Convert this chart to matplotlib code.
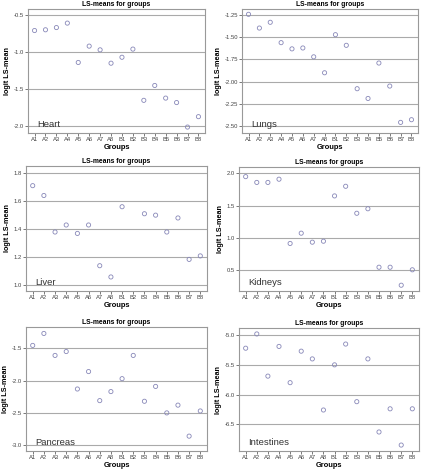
import matplotlib
matplotlib.use("Agg")
import matplotlib.pyplot as plt
import numpy as np

plt.rcParams['font.family'] = ['Liberation Sans', 'DejaVu Sans']

groups = ['A1', 'A2', 'A3', 'A4', 'A5', 'A6', 'A7', 'A8',
          'B1', 'B2', 'B3', 'B4', 'B5', 'B6', 'B7', 'B8']

heart = [-0.71, -0.70, -0.67, -0.61, -1.14, -0.92, -0.97, -1.15,
         -1.07, -0.96, -1.65, -1.45, -1.62, -1.68, -2.01, -1.87]
lungs = [-1.24, -1.395, -1.33, -1.56, -1.63, -1.62, -1.72, -1.90,
         -1.47, -1.59, -2.08, -2.19, -1.79, -2.05, -2.46, -2.43]
liver = [1.71, 1.64, 1.38, 1.43, 1.37, 1.43, 1.14, 1.06,
         1.56, np.nan, 1.51, 1.50, 1.38, 1.48, 1.185, 1.21]
kidneys = [1.95, 1.86, 1.86, 1.91, 0.91, 1.07, 0.93, 0.945,
           1.65, 1.80, 1.38, 1.45, 0.54, 0.54, 0.26, 0.50]
pancreas = [-1.455, -1.27, -1.61, -1.55, -2.13, -1.86, -2.31, -2.17,
            -1.97, -1.61, -2.32, -2.09, -2.50, -2.38, -2.86, -2.47]
intestines = [-5.22, -4.98, -5.69, -5.19, -5.80, -5.27, -5.40, -6.26,
              -5.50, -5.15, -6.12, -5.40, -6.63, -6.24, -6.85, -6.24]

organs = ['Heart', 'Lungs', 'Liver', 'Kidneys', 'Pancreas', 'Intestines']
series = [heart, lungs, liver, kidneys, pancreas, intestines]
yticks = [[-2.0, -1.5, -1.0, -0.5],
          [-2.50, -2.25, -2.00, -1.75, -1.50, -1.25],
          [1.0, 1.2, 1.4, 1.6, 1.8],
          [0.5, 1.0, 1.5, 2.0],
          [-3.0, -2.5, -2.0, -1.5],
          [-6.5, -6.0, -5.5, -5.0]]
ylims = [(-2.09, -0.42), (-2.58, -1.18), (0.96, 1.85),
         (0.17, 2.10), (-3.09, -1.17), (-6.95, -4.88)]
tickfmt = ['%.1f', '%.2f', '%.1f', '%.1f', '%.1f', '%.1f']

W, H = 423, 470
# axes boxes in pixels: left, top, right, bottom
boxes = [(28, 9, 205, 133), (242, 9, 418, 133),
         (26, 166, 207, 291), (239, 167, 419, 291),
         (26, 327, 207, 451), (239, 328, 419, 451)]

fig = plt.figure(figsize=(W / 100, H / 100), dpi=100)
x = np.arange(len(groups))
for i in range(6):
    l, t, r, b = boxes[i]
    ax = fig.add_axes([l / W, 1 - b / H, (r - l) / W, (b - t) / H])
    ax.scatter(x, series[i], s=9, facecolors='none', edgecolors='#8888b8', linewidths=0.6, zorder=3)
    ax.set_xlim(-0.6, len(groups) - 0.4)
    ax.set_ylim(*ylims[i])
    ax.set_yticks(yticks[i])
    ax.set_yticklabels([tickfmt[i] % v for v in yticks[i]])
    ax.set_xticks(x)
    ax.set_xticklabels(groups)
    ax.tick_params(labelsize=4.2, length=2, width=0.5, colors='#444444', pad=1)
    ax.yaxis.grid(True, color='#aaaaaa', linewidth=0.8)
    ax.set_axisbelow(True)
    for sp in ax.spines.values():
        sp.set_color('#999999')
        sp.set_linewidth(0.8)
    ax.set_title('LS-means for groups', fontsize=4.9, fontweight='bold', pad=2)
    ax.set_xlabel('Groups', fontsize=5.4, fontweight='bold', labelpad=1.5)
    ax.set_ylabel('logit LS-mean', fontsize=5.2, fontweight='bold', labelpad=2)
    ax.text(0.05, 0.05, organs[i], transform=ax.transAxes, fontsize=6.8, color='#333333')

fig.savefig('out.png', dpi=100)
